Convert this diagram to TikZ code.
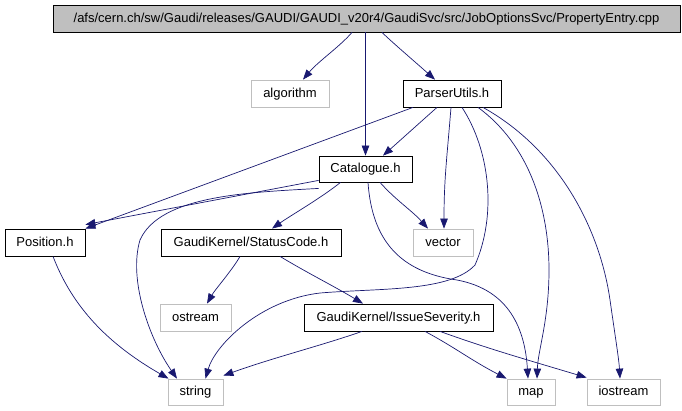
\documentclass[tikz,border=0pt]{standalone}
\usepackage{fontspec}
\setmainfont{Liberation Sans}
\usetikzlibrary{arrows.meta}
\definecolor{edgeblue}{HTML}{191970}
\definecolor{sysgray}{HTML}{BFBFBF}
\begin{document}
\begin{tikzpicture}[x=1bp,y=-1bp,
  box/.style={draw=black,line width=0.8bp,rectangle,inner sep=0pt,
    font=\fontsize{13bp}{15bp}\selectfont,text height=9.5bp,text depth=2.5bp},
  sysbox/.style={box,draw=sysgray},
  topbox/.style={box,fill=sysgray},
  dep/.style={draw=edgeblue,line width=0.7bp,-{Triangle[length=10bp,width=7.5bp]}}]
\useasboundingbox (0,0) rectangle (682,410);
\node[topbox,minimum width=627bp,minimum height=27bp] (top) at (366.5,18.5) {/afs/cern.ch/sw/Gaudi/releases/GAUDI/GAUDI\_v20r4/GaudiSvc/src/JobOptionsSvc/PropertyEntry.cpp};
\node[sysbox,minimum width=78bp,minimum height=27bp] (algorithm) at (290,93.5) {algorithm};
\node[box,minimum width=98bp,minimum height=27bp] (parser) at (452,93.5) {ParserUtils.h};
\node[box,minimum width=93bp,minimum height=26bp] (catalogue) at (365.5,169) {Catalogue.h};
\node[box,minimum width=80bp,minimum height=27bp] (position) at (45,242.5) {Position.h};
\node[box,minimum width=180bp,minimum height=27bp] (status) at (251,242.5) {GaudiKernel/StatusCode.h};
\node[sysbox,minimum width=60bp,minimum height=27bp] (vector) at (443,242.5) {vector};
\node[sysbox,minimum width=71bp,minimum height=27bp] (ostream) at (195.5,317.5) {ostream};
\node[box,minimum width=189bp,minimum height=27bp] (issue) at (398.5,317.5) {GaudiKernel/IssueSeverity.h};
\node[sysbox,minimum width=55bp,minimum height=26bp] (string) at (195.5,392) {string};
\node[sysbox,minimum width=48bp,minimum height=26bp] (map) at (531,392) {map};
\node[sysbox,minimum width=73bp,minimum height=26bp] (iostream) at (623.5,392) {iostream};

% from top
\draw[dep] ([xshift=-14.5bp]top.south) .. controls +(-12,14) and +(15,-18) .. ([xshift=13bp]algorithm.north);
\draw[dep] (top.south -| catalogue.north) -- (catalogue.north);
\draw[dep] ([xshift=15.5bp]top.south) .. controls +(8,8) and +(-18,-16) .. ([xshift=-17bp]parser.north);
% from ParserUtils
\draw[dep] ([xshift=-39bp]parser.south) -- (position.north east);
\draw[dep] ([xshift=-15bp]parser.south) .. controls +(-18,16) and +(18,-16) .. ([xshift=17.5bp]catalogue.north);
\draw[dep] ([xshift=-1bp]parser.south) .. controls +(-4,50) and +(0,-50) .. ([xshift=1bp]vector.north);
\draw[dep] ([xshift=10bp]parser.south) .. controls +(28,43) and +(22,-50) .. (475,265)
  .. controls (450,292) and (380,288) .. (320,293)
  .. controls (260,300) and (215,345) .. ([xshift=10bp]string.north);
\draw[dep] ([xshift=26bp]parser.south) .. controls +(52,38) and +(0,-60) .. (549,270)
  .. controls (549,320) and (538,350) .. ([xshift=6bp]map.north);
\draw[dep] ([xshift=31bp]parser.south) .. controls +(77,43) and +(-10,-70) .. (610,300)
  .. controls (615,335) and (619,360) .. ([xshift=-3.5bp]iostream.north);
% from Catalogue
\draw[dep] ([yshift=2bp]catalogue.south west) -- ([yshift=4bp]position.north east);
\draw[dep] ([yshift=-6bp]catalogue.south west) .. controls +(-69,4) and +(20,-45) .. (140,240)
  .. controls (128,280) and (150,340) .. ([xshift=-18.5bp]string.north);
\draw[dep] ([xshift=-25bp]catalogue.south) .. controls +(-20,16) and +(20,-14) .. ([xshift=21bp]status.north);
\draw[dep] ([xshift=14.5bp]catalogue.south) .. controls +(16,18) and +(-16,-18) .. ([xshift=-15bp]vector.north);
\draw[dep] ([xshift=2.5bp]catalogue.south) .. controls +(4,58) and +(-57,-8) .. (457,280)
  .. controls (510,290) and (525,330) .. ([xshift=-3bp]map.north);
% from Position
\draw[dep] ([xshift=8bp]position.south) .. controls +(17,44) and +(-68,-39) .. ([xshift=-27bp]string.north);
% from StatusCode
\draw[dep] ([xshift=-11bp]status.south) .. controls +(-8,14) and +(8,-14) .. ([xshift=11.5bp]ostream.north);
\draw[dep] ([xshift=29bp]status.south) .. controls +(30,18) and +(-30,-18) .. ([xshift=-35.5bp]issue.north);
% from IssueSeverity
\draw[dep] ([xshift=-36.5bp]issue.south) .. controls +(-40,14) and +(50,-18) .. ([yshift=3bp]string.north east);
\draw[dep] ([xshift=26.5bp]issue.south) .. controls +(30,16) and +(-35,-18) .. (map.north west);
\draw[dep] ([xshift=41.5bp]issue.south) .. controls +(50,18) and +(-60,-18) .. ([yshift=1bp]iostream.north west);
\end{tikzpicture}
\end{document}
